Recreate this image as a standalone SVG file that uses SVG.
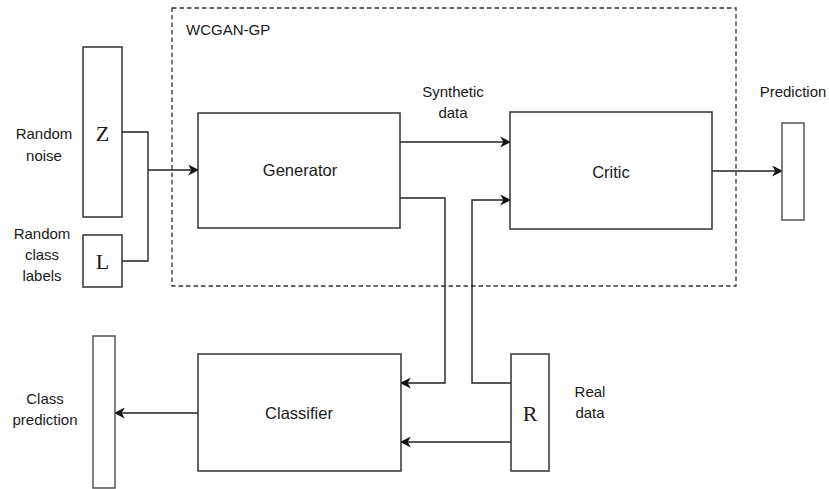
<svg xmlns="http://www.w3.org/2000/svg" width="829" height="489" viewBox="0 0 829 489">
<style>
.lbl{font-family:"Liberation Sans",Arial,sans-serif;font-size:15px;fill:#1a1a1a;text-anchor:middle}
.big{font-size:16.5px}
.sym{font-family:"Liberation Serif","Times New Roman",serif;font-size:22px;fill:#1a1a1a;text-anchor:middle}
.box{fill:#fff;stroke:#333;stroke-width:1.5}
.vec{fill:#fff;stroke:#555;stroke-width:1.5}
.ln{fill:none;stroke:#222;stroke-width:1.4}
</style>
<defs>
<marker id="ah" viewBox="0 0 10 10" refX="9" refY="5" markerWidth="11" markerHeight="11" markerUnits="userSpaceOnUse" orient="auto">
<path d="M0,0 L10,5 L0,10 L3,5 Z" fill="#111"/>
</marker>
</defs>
<rect width="829" height="489" fill="#fff"/>
<g id="wcgan-gp">
<rect x="172" y="8" width="564" height="278" fill="none" stroke="#333" stroke-width="1.3" stroke-dasharray="4.5,3"/>
<text x="186" y="35" class="lbl" style="text-anchor:start">WCGAN-GP</text>
</g>
<g id="connectors">
<polyline class="ln" points="122,132 148,132 148,261 122,261"/>
<line class="ln" x1="148" y1="170" x2="198" y2="170" marker-end="url(#ah)"/>
<line class="ln" x1="400" y1="142" x2="510" y2="142" marker-end="url(#ah)"/>
<polyline class="ln" points="400,198 445,198 445,383 401,383" marker-end="url(#ah)"/>
<polyline class="ln" points="511,383 472,383 472,200 510,200" marker-end="url(#ah)"/>
<line class="ln" x1="511" y1="442" x2="401" y2="442" marker-end="url(#ah)"/>
<line class="ln" x1="712" y1="171" x2="782" y2="171" marker-end="url(#ah)"/>
<line class="ln" x1="198" y1="413" x2="115" y2="413" marker-end="url(#ah)"/>
</g>
<g id="z">
<rect class="box" x="83" y="47" width="39" height="170"/>
<text class="sym" x="102.5" y="141">Z</text>
<text class="lbl" x="44" y="139">Random</text>
<text class="lbl" x="44" y="161">noise</text>
</g>
<g id="l">
<rect class="box" x="83" y="235" width="39" height="52"/>
<text class="sym" x="102.5" y="269">L</text>
<text class="lbl" x="42" y="239">Random</text>
<text class="lbl" x="42" y="260">class</text>
<text class="lbl" x="42" y="281">labels</text>
</g>
<g id="generator">
<rect class="box" x="198" y="113" width="202" height="115"/>
<text class="lbl big" x="300" y="176">Generator</text>
</g>
<g id="critic">
<rect class="box" x="510" y="112" width="202" height="117"/>
<text class="lbl big" x="611" y="178">Critic</text>
</g>
<g id="synthetic-data">
<text class="lbl" x="453" y="97">Synthetic</text>
<text class="lbl" x="453" y="118">data</text>
</g>
<g id="prediction">
<rect class="vec" x="782" y="123" width="22" height="97"/>
<text class="lbl" x="793" y="97">Prediction</text>
</g>
<g id="classifier">
<rect class="box" x="198" y="354" width="203" height="117"/>
<text class="lbl big" x="299" y="419">Classifier</text>
</g>
<g id="class-prediction">
<rect class="vec" x="93" y="336" width="22" height="152"/>
<text class="lbl" x="45" y="404">Class</text>
<text class="lbl" x="45" y="425">prediction</text>
</g>
<g id="r">
<rect class="box" x="511" y="354" width="38" height="117"/>
<text class="sym" x="530" y="421">R</text>
<text class="lbl" x="590" y="397">Real</text>
<text class="lbl" x="590" y="418">data</text>
</g>
</svg>
